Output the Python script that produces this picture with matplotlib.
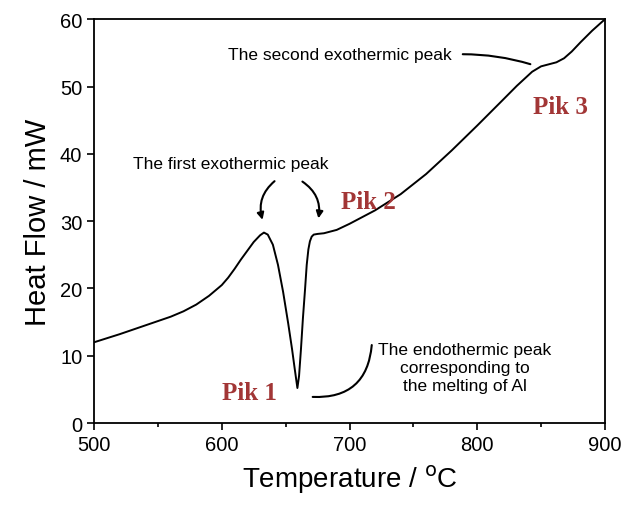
import matplotlib
matplotlib.use('Agg')
import matplotlib.pyplot as plt
import numpy as np

# DSC curve
temp = [500, 520, 540, 560, 570, 580, 590, 600, 605, 610, 615, 620, 625, 630, 633, 636, 640,
        644, 648, 652, 655, 657, 659.2, 660.5, 662, 663.5, 665.2, 666.5, 667.8,
        669, 670.4, 672, 675, 680, 690, 700, 710, 720, 740, 760, 780, 800, 820,
        831, 843, 850, 856, 862, 868, 874, 881, 890, 900]
heat = [12.0, 13.2, 14.5, 15.8, 16.6, 17.6, 18.9, 20.5, 21.6, 22.9, 24.3, 25.6, 26.9, 27.9, 28.3, 28.0, 26.5,
        23.5, 19.5, 14.8, 11.0, 8.2, 5.2, 7.0, 11.0, 15.5, 19.9, 23.5, 25.8,
        27.0, 27.7, 28.0, 28.1, 28.2, 28.7, 29.6, 30.6, 31.6, 34.0, 37.0, 40.5, 44.2, 48.0,
        50.1, 52.2, 53.0, 53.3, 53.6, 54.2, 55.2, 56.6, 58.3, 60.0]

pik_labels = ['Pik 1', 'Pik 2', 'Pik 3']
pik_x = [621.4, 714.9, 865.2]
pik_y = [4.6, 32.9, 47.1]

plt.rcParams['font.family'] = ['Liberation Sans', 'DejaVu Sans']

fig = plt.figure(figsize=(6.23, 5.06), dpi=100)
ax = fig.add_axes([0.151, 0.162, 0.82, 0.798])
ax.plot(temp, heat, color='black', lw=1.4)

ax.set_xlim(500, 900)
ax.set_ylim(0, 60)
ax.set_xticks([500, 600, 700, 800, 900])
ax.set_xticks([550, 650, 750, 850], minor=True)
ax.set_yticks([0, 10, 20, 30, 40, 50, 60])
ax.tick_params(axis='both', direction='out', labelsize=14.5, length=5, width=1.2)
ax.tick_params(axis='x', which='minor', direction='out', length=3, width=1.2)
for s in ax.spines.values():
    s.set_linewidth(1.3)
ax.set_xlabel('Temperature / $^{\\mathrm{o}}$C', fontsize=20, labelpad=6)
ax.set_ylabel('Heat Flow / mW', fontsize=21, labelpad=6)

# annotations
ax.text(607.2, 38.5, 'The first exothermic peak', fontsize=12.5, ha='center', va='center')
ax.annotate('', xy=(632.5, 29.8), xytext=(643, 36.2),
            arrowprops=dict(arrowstyle='-|>', color='black', lw=1.5,
                            connectionstyle='arc3,rad=0.35', mutation_scale=10))
ax.annotate('', xy=(675.3, 30.0), xytext=(661.3, 36.1),
            arrowprops=dict(arrowstyle='-|>', color='black', lw=1.5,
                            connectionstyle='arc3,rad=-0.35', mutation_scale=10))

ax.text(692.6, 54.8, 'The second exothermic peak', fontsize=12.5, ha='center', va='center')
ax.annotate('', xy=(843.7, 53.2), xytext=(786.5, 54.8),
            arrowprops=dict(arrowstyle='-', color='black', lw=1.5,
                            connectionstyle='arc3,rad=-0.08'))

ax.text(790, 8.3, 'The endothermic peak\ncorresponding to\nthe melting of Al',
        fontsize=12.5, ha='center', va='center', linespacing=1.25)
ax.annotate('', xy=(669, 3.9), xytext=(717.6, 12.0),
            arrowprops=dict(arrowstyle='-', color='black', lw=1.5,
                            connectionstyle='arc3,rad=-0.5'))

for lab, px, py in zip(pik_labels, pik_x, pik_y):
    ax.text(px, py, lab, fontsize=18, fontweight='bold', color='#a23636',
            family='Liberation Serif', ha='center', va='center')

fig.savefig('out.png', dpi=100)
